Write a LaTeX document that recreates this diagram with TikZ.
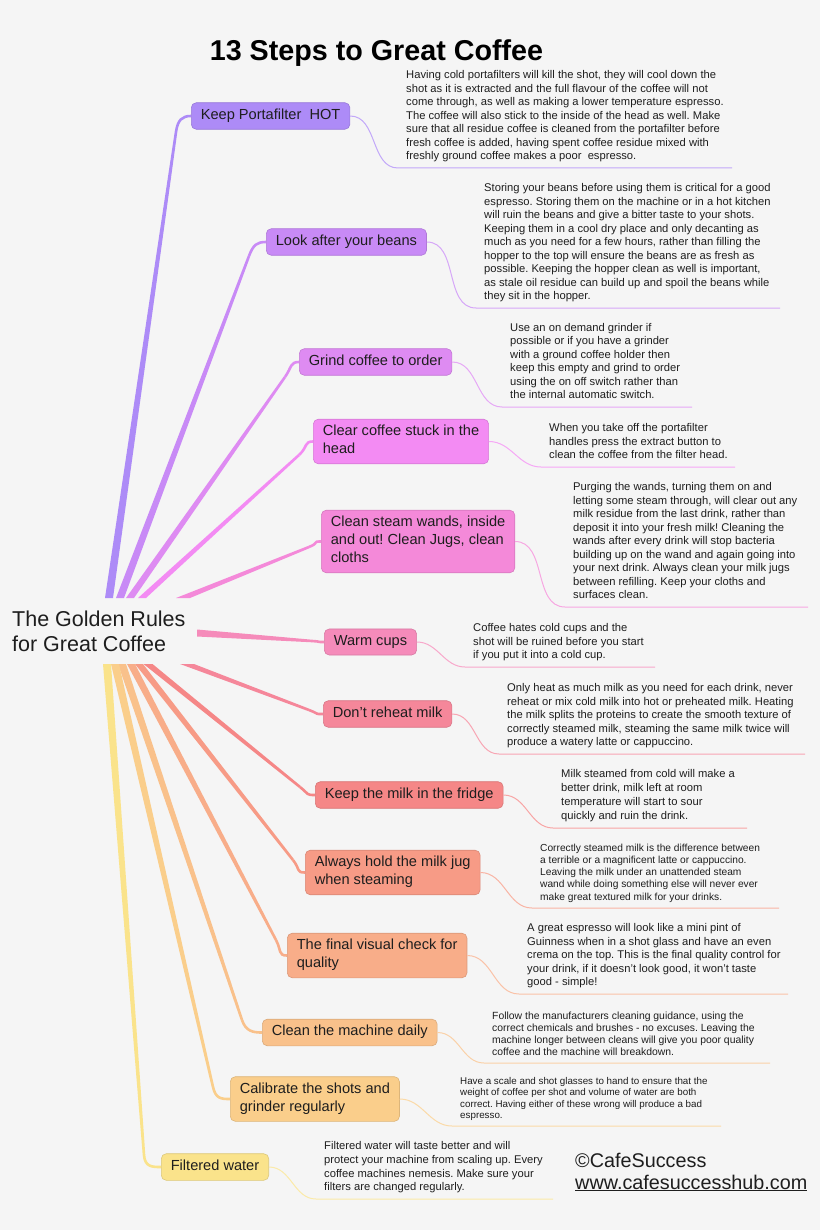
\documentclass[tikz,border=0pt]{standalone}
\usepackage{fontspec}
\setmainfont{Liberation Sans}
\usetikzlibrary{calc}
\frenchspacing

\definecolor{paper}{HTML}{F5F5F5}
\definecolor{ink}{HTML}{1E1E1E}
\definecolor{cPorta}{HTML}{AD8BF7}
\definecolor{cBeans}{HTML}{C88AF6}
\definecolor{cGrind}{HTML}{DE8BF2}
\definecolor{cHead}{HTML}{F38BF3}
\definecolor{cWands}{HTML}{F489D9}
\definecolor{cCups}{HTML}{F58BBA}
\definecolor{cReheat}{HTML}{F5879A}
\definecolor{cFridge}{HTML}{F58787}
\definecolor{cJug}{HTML}{F79B86}
\definecolor{cCheck}{HTML}{F8AD89}
\definecolor{cClean}{HTML}{F9C18B}
\definecolor{cCalib}{HTML}{FACE8B}
\definecolor{cWater}{HTML}{FAE38B}

\newcommand\boxstrut{\rule[-4pt]{0pt}{14pt}}

\tikzset{
  rulebox/.style={anchor=west, rounded corners=5pt, align=left,
    inner xsep=9.5pt, inner ysep=6pt, text=ink, line width=0.6pt,
    font=\fontsize{14.6}{18}\selectfont,
    execute at begin node=\boxstrut, execute at end node=\boxstrut,
    fill=#1, draw=#1!88!black},
  notetext/.style={anchor=south west, align=left, inner xsep=8pt,
    inner ysep=4pt, text=ink, font=\fontsize{11.2}{13.5}\selectfont,
    execute at end node=\strut},
  twig/.style={#1!75!white, line width=1pt},
  credit/.style={anchor=base west, inner sep=0, text=ink,
    font=\fontsize{19.8}{22}\selectfont},
}

\begin{document}
\begin{tikzpicture}[x=1pt, y=-1pt]
  \fill[paper] (0,0) rectangle (820,1230);
  \useasboundingbox (0,0) rectangle (820,1230);

  \node[anchor=base, inner sep=0, font=\bfseries\fontsize{28.7}{32}\selectfont]
    (title) at (376.5,61) {13 Steps to Great Coffee};

  % centre of the map
  \node[anchor=west, align=left, inner sep=0, text=ink,
    font=\fontsize{21.5}{25}\selectfont] (gold) at (12,634)
    {\rule[-6pt]{0pt}{19pt}The Golden Rules\\for Great Coffee\rule[-6pt]{0pt}{19pt}};

  % the thirteen rules
  \node[rulebox=cPorta]  (porta)  at (191,116)   {Keep Portafilter\ \ HOT};
  \node[rulebox=cBeans]  (beans)  at (266,242)   {Look after your beans};
  \node[rulebox=cGrind]  (grind)  at (299,362)   {Grind coffee to order};
  \node[rulebox=cHead]   (head)   at (313,441.5) {Clear coffee stuck in the\\head};
  \node[rulebox=cWands]  (wands)  at (321,541.5) {Clean steam wands, inside\\and out! Clean Jugs, clean\\cloths};
  \node[rulebox=cCups]   (cups)   at (324,642)   {Warm cups};
  \node[rulebox=cReheat] (reheat) at (323,714)   {Don't reheat milk};
  \node[rulebox=cFridge] (fridge) at (315,795)   {Keep the milk in the fridge};
  \node[rulebox=cJug]    (jug)    at (305,872.5) {Always hold the milk jug\\when steaming};
  \node[rulebox=cCheck]  (check)  at (287,955.5) {The final visual check for\\quality};
  \node[rulebox=cClean]  (clean)  at (262,1032.5){Clean the machine daily};
  \node[rulebox=cCalib]  (calib)  at (230,1099)  {Calibrate the shots and\\grinder regularly};
  \node[rulebox=cWater]  (water)  at (161,1167)  {Filtered water};

  % branches out of the centre (\dx/\dy: half the width of the root end)
  \foreach \n/\c/\rx/\ry/\dx/\dy/\bx/\by in {
      porta/cPorta/109/598/4/0/176/132,
      beans/cBeans/120/598/4/0/249/256,
      grind/cGrind/130/598/4/0/285/377,
      head/cHead/142/598/4/0/299/455,
      wands/cWands/183/598/7/0/309/547,
      cups/cCups/197/633/0/3.5/312/641,
      reheat/cReheat/187/664/-7/0/309/710,
      fridge/cFridge/148/664/-4.5/0/300/787,
      jug/cJug/139/664/-4/0/293/860,
      check/cCheck/131/664/-4/0/276/940,
      clean/cClean/122/664/-4/0/242/1020,
      calib/cCalib/115/664/-4/0/213/1087,
      water/cWater/107/664/-4/0/144/1155} {
    \coordinate (r-\n) at (\rx,\ry);
    \coordinate (b-\n) at (\bx,\by);
    \fill[\c] ($(r-\n)+(-\dx,-\dy)$) -- ($(b-\n)!1.3pt!-90:(r-\n)$)
      -- ($(b-\n)!1.3pt!90:(r-\n)$) -- ($(r-\n)+(\dx,\dy)$) -- cycle;
    \draw[\c, line width=2.6pt] (b-\n) .. controls ($(b-\n)!-12pt!(r-\n)$)
      and ($(\n.west)+(-9,0)$) .. (\n.west);
  }

  % notes
  \node[notetext] (n-porta) at (398,168) {Having cold portafilters will kill the shot, they will cool down the\\
    shot as it is extracted and the full flavour of the coffee will not\\
    come through, as well as making a lower temperature espresso.\\
    The coffee will also stick to the inside of the head as well. Make\\
    sure that all residue coffee is cleaned from the portafilter before\\
    fresh coffee is added, having spent coffee residue mixed with\\
    freshly ground coffee makes a poor\ \ espresso.};
  \coordinate (e-porta) at (732,168);

  \node[notetext] (n-beans) at (476,308) {Storing your beans before using them is critical for a good\\
    espresso. Storing them on the machine or in a hot kitchen\\
    will ruin the beans and give a bitter taste to your shots.\\
    Keeping them in a cool dry place and only decanting as\\
    much as you need for a few hours, rather than filling the\\
    hopper to the top will ensure the beans are as fresh as\\
    possible. Keeping the hopper clean as well is important,\\
    as stale oil residue can build up and spoil the beans while\\
    they sit in the hopper.};
  \coordinate (e-beans) at (780,308);

  \node[notetext] (n-grind) at (502,407) {Use an on demand grinder if\\
    possible or if you have a grinder\\
    with a ground coffee holder then\\
    keep this empty and grind to order\\
    using the on off switch rather than\\
    the internal automatic switch.};
  \coordinate (e-grind) at (692,407);

  \node[notetext] (n-head) at (541,467) {When you take off the portafilter\\
    handles press the extract button to\\
    clean the coffee from the filter head.};
  \coordinate (e-head) at (735,467);

  \node[notetext] (n-wands) at (565,607) {Purging the wands, turning them on and\\
    letting some steam through, will clear out any\\
    milk residue from the last drink, rather than\\
    deposit it into your fresh milk! Cleaning the\\
    wands after every drink will stop bacteria\\
    building up on the wand and again going into\\
    your next drink. Always clean your milk jugs\\
    between refilling. Keep your cloths and\\
    surfaces clean.};
  \coordinate (e-wands) at (808,607);

  \node[notetext] (n-cups) at (465,667) {Coffee hates cold cups and the\\
    shot will be ruined before you start\\
    if you put it into a cold cup.};
  \coordinate (e-cups) at (655,667);

  \node[notetext] (n-reheat) at (499,754) {Only heat as much milk as you need for each drink, never\\
    reheat or mix cold milk into hot or preheated milk. Heating\\
    the milk splits the proteins to create the smooth texture of\\
    correctly steamed milk, steaming the same milk twice will\\
    produce a watery latte or cappuccino.};
  \coordinate (e-reheat) at (805,754);

  \node[notetext, font=\fontsize{11.2}{14}\selectfont] (n-fridge) at (553,828) {Milk steamed from cold will make a\\
    better drink, milk left at room\\
    temperature will start to sour\\
    quickly and ruin the drink.};
  \coordinate (e-fridge) at (747,828);

  \node[notetext, font=\fontsize{10.2}{12.25}\selectfont] (n-jug) at (532,908) {Correctly steamed milk is the difference between\\
    a terrible or a magnificent latte or cappuccino.\\
    Leaving the milk under an unattended steam\\
    wand while doing something else will never ever\\
    make great textured milk for your drinks.};
  \coordinate (e-jug) at (779,908);

  \node[notetext] (n-check) at (519,994) {A great espresso will look like a mini pint of\\
    Guinness when in a shot glass and have an even\\
    crema on the top. This is the final quality control for\\
    your drink, if it doesn't look good, it won't taste\\
    good - simple!};
  \coordinate (e-check) at (788,994);

  \node[notetext, font=\fontsize{10.4}{12}\selectfont] (n-clean) at (484,1063) {Follow the manufacturers cleaning guidance, using the\\
    correct chemicals and brushes - no excuses. Leaving the\\
    machine longer between cleans will give you poor quality\\
    coffee and the machine will breakdown.};
  \coordinate (e-clean) at (770,1063);

  \node[notetext, font=\fontsize{9.8}{11.3}\selectfont] (n-calib) at (452,1126) {Have a scale and shot glasses to hand to ensure that the\\
    weight of coffee per shot and volume of water are both\\
    correct. Having either of these wrong will produce a bad\\
    espresso.};
  \coordinate (e-calib) at (721,1126);

  \node[notetext, font=\fontsize{11.2}{13.7}\selectfont] (n-water) at (316,1199) {Filtered water will taste better and will\\
    protect your machine from scaling up. Every\\
    coffee machines nemesis. Make sure your\\
    filters are changed regularly.};
  \coordinate (e-water) at (553,1199);

  % leaders from the rules to their notes
  \foreach \n/\c in {porta/cPorta, beans/cBeans, grind/cGrind, head/cHead,
      wands/cWands, cups/cCups, reheat/cReheat, fridge/cFridge, jug/cJug,
      check/cCheck, clean/cClean, calib/cCalib, water/cWater}
    \draw[twig=\c] (\n.east) to[out=0, in=180] (n-\n.south west) -- (e-\n);

  \node[credit] (copy) at (575,1167) {©CafeSuccess};
  \node[credit] (web) at (575,1189) {\underline{www.cafesuccesshub.com}};
\end{tikzpicture}
\end{document}
